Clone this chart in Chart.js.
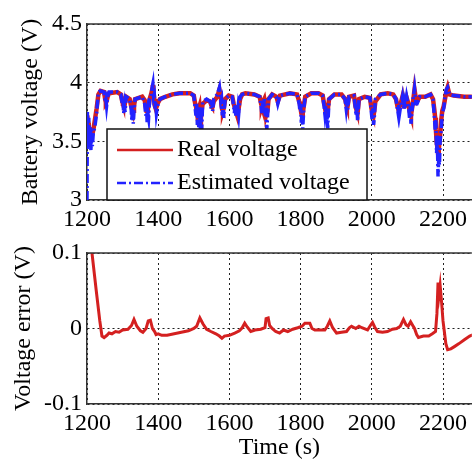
<!DOCTYPE html>
<html>
<head>
<meta charset="utf-8">
<script src="https://cdn.jsdelivr.net/npm/chart.js@4"></script>
<style>
  html, body { margin: 0; padding: 0; background: #fff; }
  #wrap { position: relative; width: 472px; height: 465px; overflow: hidden; }
  #voltChart { position: absolute; left: 0; top: 0; }
  #errChart { position: absolute; left: 0; top: 232px; }
</style>
</head>
<body>
<div id="wrap">
  <canvas id="voltChart" width="472" height="232"></canvas>
  <canvas id="errChart" width="472" height="233"></canvas>
</div>
<script>
// time axis (s) for the voltage plot
const voltTime = [1200, 1201, 1203, 1205, 1207, 1209, 1211, 1213, 1215, 1218,
  1222, 1227, 1232, 1238, 1248, 1251, 1253, 1255, 1258, 1262,
  1285, 1295, 1299, 1301, 1303, 1305, 1307, 1310, 1320, 1324,
  1326, 1328, 1330, 1332, 1335, 1355, 1362, 1365, 1367, 1369,
  1371, 1373, 1376, 1380, 1383, 1385, 1387, 1389, 1391, 1393,
  1395, 1398, 1405, 1420, 1440, 1460, 1490, 1500, 1504, 1506,
  1508, 1510, 1512, 1514, 1516, 1518, 1520, 1522, 1525, 1536,
  1546, 1549, 1551, 1553, 1556, 1566, 1572, 1576, 1578, 1580,
  1582, 1584, 1588, 1598, 1608, 1612, 1614, 1616, 1618, 1620,
  1622, 1624, 1626, 1630, 1636, 1645, 1670, 1685, 1689, 1691,
  1693, 1695, 1698, 1701, 1703, 1705, 1707, 1710, 1720, 1732,
  1736, 1742, 1770, 1790, 1796, 1798, 1800, 1802, 1804, 1806,
  1809, 1813, 1830, 1850, 1862, 1866, 1868, 1870, 1872, 1874,
  1876, 1880, 1895, 1915, 1925, 1928, 1930, 1932, 1936, 1950,
  1954, 1956, 1958, 1960, 1964, 1980, 1995, 1999, 2001, 2003,
  2005, 2007, 2010, 2025, 2045, 2060, 2068, 2072, 2074, 2076,
  2078, 2081, 2086, 2090, 2092, 2094, 2098, 2103, 2106, 2108,
  2110, 2113, 2116, 2120, 2124, 2127, 2135, 2150, 2165, 2172,
  2176, 2178, 2180, 2182, 2184, 2186, 2188, 2190, 2192, 2195,
  2198, 2202, 2205, 2209, 2213, 2218, 2230, 2260, 2290];
const realVoltage = [3.72, 3.7, 3.66, 3.62, 3.6, 3.57, 3.56, 3.55, 3.56, 3.6,
  3.68, 3.78, 3.9, 3.93, 3.92, 3.86, 3.83, 3.84, 3.88, 3.91,
  3.92, 3.9, 3.84, 3.82, 3.82, 3.84, 3.83, 3.88, 3.86, 3.8,
  3.78, 3.77, 3.76, 3.8, 3.86, 3.88, 3.85, 3.8, 3.76, 3.76,
  3.78, 3.8, 3.86, 3.9, 3.94, 3.98, 3.92, 3.86, 3.8, 3.78,
  3.79, 3.82, 3.86, 3.88, 3.9, 3.91, 3.91, 3.89, 3.82, 3.8,
  3.76, 3.72, 3.74, 3.78, 3.8, 3.72, 3.7, 3.76, 3.82, 3.85,
  3.84, 3.81, 3.8, 3.8, 3.84, 3.88, 3.94, 3.88, 3.8, 3.77,
  3.76, 3.78, 3.86, 3.89, 3.88, 3.82, 3.8, 3.78, 3.76, 3.76,
  3.76, 3.77, 3.78, 3.86, 3.9, 3.91, 3.9, 3.88, 3.82, 3.8,
  3.82, 3.84, 3.86, 3.8, 3.72, 3.72, 3.76, 3.86, 3.9, 3.88,
  3.84, 3.89, 3.91, 3.9, 3.84, 3.82, 3.78, 3.74, 3.72, 3.74,
  3.8, 3.88, 3.91, 3.91, 3.89, 3.82, 3.8, 3.76, 3.72, 3.74,
  3.76, 3.86, 3.9, 3.9, 3.86, 3.82, 3.8, 3.8, 3.88, 3.89,
  3.8, 3.78, 3.76, 3.74, 3.86, 3.88, 3.87, 3.78, 3.76, 3.74,
  3.72, 3.76, 3.84, 3.9, 3.91, 3.9, 3.86, 3.8, 3.78, 3.78,
  3.8, 3.82, 3.88, 3.8, 3.8, 3.82, 3.87, 3.82, 3.76, 3.74,
  3.72, 3.78, 3.84, 3.94, 3.86, 3.84, 3.88, 3.88, 3.9, 3.86,
  3.76, 3.7, 3.6, 3.5, 3.45, 3.4, 3.42, 3.5, 3.56, 3.68,
  3.76, 3.8, 3.85, 3.92, 3.96, 3.9, 3.89, 3.88, 3.88];
const estVoltage = [3.0, 3.75, 3.5, 3.7, 3.45, 3.62, 3.42, 3.6, 3.46, 3.58,
  3.62, 3.74, 3.92, 3.93, 3.92, 3.84, 3.86, 3.8, 3.88, 3.92,
  3.92, 3.9, 3.82, 3.86, 3.74, 3.8, 3.75, 3.88, 3.86, 3.78,
  3.68, 3.8, 3.65, 3.75, 3.86, 3.88, 3.82, 3.72, 3.82, 3.66,
  3.74, 3.7, 3.86, 3.88, 3.96, 3.99, 3.88, 3.9, 3.78, 3.84,
  3.74, 3.8, 3.86, 3.88, 3.9, 3.91, 3.91, 3.89, 3.78, 3.72,
  3.82, 3.64, 3.78, 3.62, 3.8, 3.6, 3.74, 3.58, 3.84, 3.86,
  3.84, 3.78, 3.84, 3.76, 3.86, 3.9, 3.96, 3.84, 3.86, 3.72,
  3.8, 3.7, 3.86, 3.89, 3.88, 3.8, 3.74, 3.82, 3.72, 3.8,
  3.72, 3.78, 3.73, 3.88, 3.9, 3.91, 3.9, 3.88, 3.8, 3.74,
  3.84, 3.76, 3.86, 3.72, 3.8, 3.6, 3.7, 3.86, 3.9, 3.88,
  3.82, 3.89, 3.91, 3.9, 3.82, 3.76, 3.82, 3.66, 3.75, 3.61,
  3.78, 3.88, 3.91, 3.91, 3.89, 3.8, 3.74, 3.8, 3.66, 3.72,
  3.61, 3.86, 3.9, 3.9, 3.86, 3.78, 3.84, 3.77, 3.88, 3.89,
  3.78, 3.72, 3.8, 3.68, 3.86, 3.88, 3.87, 3.74, 3.68, 3.78,
  3.64, 3.7, 3.86, 3.9, 3.91, 3.9, 3.86, 3.78, 3.74, 3.82,
  3.74, 3.8, 3.88, 3.77, 3.82, 3.78, 3.88, 3.8, 3.7, 3.8,
  3.65, 3.76, 3.86, 3.95, 3.82, 3.82, 3.88, 3.88, 3.9, 3.86,
  3.7, 3.6, 3.68, 3.4, 3.55, 3.2, 3.35, 3.3, 3.5, 3.6,
  3.74, 3.78, 3.86, 3.94, 3.96, 3.9, 3.89, 3.88, 3.88];

// time axis (s) and values for the error plot
const errTime = [1205, 1214, 1226, 1236, 1242, 1248, 1256, 1262, 1270, 1280, 1290, 1300, 1315, 1325, 1332, 1340, 1350, 1357, 1366, 1372,
  1378, 1384, 1390, 1394, 1400, 1410, 1425, 1445, 1465, 1485, 1500, 1508, 1517, 1526, 1536, 1548, 1562, 1572, 1579, 1586,
  1600, 1615, 1628, 1636, 1643, 1650, 1660, 1672, 1688, 1700, 1703, 1709, 1713, 1720, 1730, 1741, 1752, 1764, 1778, 1792,
  1804, 1812, 1826, 1832, 1840, 1855, 1868, 1875, 1882, 1890, 1901, 1915, 1929, 1937, 1943, 1955, 1964, 1972, 1988, 1996,
  2002, 2008, 2016, 2030, 2044, 2058, 2070, 2080, 2089, 2096, 2102, 2109, 2115, 2120, 2126, 2131, 2145, 2160, 2170, 2179,
  2183, 2186, 2189, 2192, 2196, 2200, 2204, 2208, 2213, 2222, 2232, 2245, 2260, 2275, 2290];
const voltError = [0.14, 0.1, 0.05, 0.01, -0.01, -0.012, -0.009, -0.006, -0.007, -0.004, -0.005, -0.002, -0.001, 0.004, 0.012, 0.003, -0.003, -0.005, 0.0, 0.01,
  0.011, 0.0, -0.004, -0.008, -0.007, -0.009, -0.009, -0.007, -0.005, -0.003, 0.0, 0.003, 0.014, 0.006, -0.001, -0.004, -0.007, -0.01, -0.013, -0.01,
  -0.009, -0.006, -0.003, 0.001, 0.007, 0.002, -0.004, -0.002, -0.001, 0.001, 0.013, 0.014, 0.004, 0.0, -0.004, -0.006, -0.002, -0.004, -0.001, 0.001,
  0.003, 0.007, 0.007, 0.0, -0.002, -0.002, -0.002, 0.003, 0.01, 0.001, -0.006, -0.005, -0.004, 0.001, 0.003, 0.0, 0.003, 0.001, -0.002, 0.004,
  0.008, 0.002, -0.004, -0.005, -0.004, -0.001, 0.0, 0.003, 0.012, 0.005, 0.003, 0.009, 0.004, 0.0, -0.008, -0.012, -0.01, -0.01, -0.007, -0.004,
  0.02, 0.061, 0.045, 0.057, 0.035, 0.01, -0.005, -0.02, -0.028, -0.027, -0.024, -0.02, -0.015, -0.01, -0.007];

const xMin = 1200, xMax = 2281;
const xStep = 200;

Chart.defaults.font.family = "'Liberation Serif', 'DejaVu Serif', serif";
Chart.defaults.font.size = 24;
Chart.defaults.color = "#000";

const toPoints = (xs, ys) => xs.map((x, i) => ({ x: x, y: ys[i] }));

// top edge of the box (right edge is cut off in the original)
const frame = {
  id: "frame",
  afterDraw(chart) {
    const { ctx, chartArea } = chart;
    ctx.save();
    ctx.strokeStyle = "#333";
    ctx.lineWidth = 1.5;
    ctx.beginPath();
    ctx.moveTo(chartArea.left, chartArea.top);
    ctx.lineTo(chartArea.right, chartArea.top);
    ctx.stroke();
    ctx.restore();
  }
};

// legend box drawn inside the plot, like matlab's
const legendBox = {
  id: "legendBox",
  afterDatasetsDraw(chart) {
    const { ctx, chartArea } = chart;
    const w = 260, h = 71;
    const x = chartArea.left + 20, y = chartArea.bottom - h;
    ctx.save();
    ctx.fillStyle = "#fff";
    ctx.fillRect(x, y, w, h);
    ctx.strokeStyle = "#111";
    ctx.lineWidth = 1.5;
    ctx.strokeRect(x, y, w, h);
    chart.data.datasets.forEach((ds, i) => {
      const ly = y + 21 + i * 33;
      ctx.strokeStyle = ds.borderColor;
      ctx.lineWidth = 2.5;
      ctx.setLineDash(ds.borderDash || []);
      ctx.beginPath();
      ctx.moveTo(x + 10, ly);
      ctx.lineTo(x + 66, ly);
      ctx.stroke();
      ctx.setLineDash([]);
      ctx.fillStyle = "#000";
      ctx.font = "24px 'Liberation Serif', serif";
      ctx.textBaseline = "middle";
      ctx.fillText(ds.label, x + 70, ly);
    });
    ctx.restore();
  }
};

function xAxis(height, pad, title) {
  return {
    type: "linear",
    min: xMin,
    max: xMax,
    afterBuildTicks: s => {
      const t = [];
      for (let v = xMin; v <= xMax; v += xStep) t.push({ value: v });
      s.ticks = t;
    },
    afterFit: s => { s.height = height; },
    ticks: { stepSize: xStep, padding: pad, maxRotation: 0, autoSkip: false, callback: v => String(v) },
    grid: { color: "#222", lineWidth: 1, drawTicks: false },
    border: { color: "#333", width: 1.5, dash: [2, 3] },
    title: title ? { display: true, text: title, padding: { top: 0, bottom: 3 } } : { display: false }
  };
}

function yAxis(min, max, step, title, titlePad) {
  return {
    min: min,
    max: max,
    afterFit: s => { s.width = 87; },
    ticks: { stepSize: step, padding: 5, callback: v => String(Math.round(v * 10) / 10) },
    grid: { color: "#222", lineWidth: 1, drawTicks: false },
    border: { color: "#333", width: 1.5, dash: [2, 3] },
    title: { display: true, text: title, padding: { top: titlePad, bottom: 0 } }
  };
}

new Chart(document.getElementById("voltChart"), {
  type: "line",
  data: {
    datasets: [{
      label: "Real voltage",
      data: toPoints(voltTime, realVoltage),
      borderColor: "#d42020",
      borderWidth: 4.5,
      order: 2
    }, {
      label: "Estimated voltage",
      data: toPoints(voltTime, estVoltage),
      borderColor: "#2222ff",
      borderWidth: 3.5,
      borderDash: [9, 3, 2, 3],
      order: 1
    }]
  },
  options: {
    responsive: false,
    animation: false,
    layout: { padding: { top: 24, left: 0, right: 0, bottom: 0 } },
    elements: { point: { radius: 0 }, line: { tension: 0 } },
    plugins: { legend: { display: false }, tooltip: { enabled: false } },
    scales: {
      x: xAxis(32, 5, null),
      y: yAxis(3, 4.5, 0.5, "Battery voltage (V)", 16)
    }
  },
  plugins: [frame, legendBox]
});

new Chart(document.getElementById("errChart"), {
  type: "line",
  data: {
    datasets: [{
      label: "Voltage error",
      data: toPoints(errTime, voltError),
      borderColor: "#d42020",
      borderWidth: 3
    }]
  },
  options: {
    responsive: false,
    animation: false,
    layout: { padding: { top: 21, left: 0, right: 0, bottom: 0 } },
    elements: { point: { radius: 0 }, line: { tension: 0 } },
    plugins: { legend: { display: false }, tooltip: { enabled: false } },
    scales: {
      x: xAxis(61, 5, "Time (s)"),
      y: yAxis(-0.1, 0.1, 0.1, "Voltage error (V)", 9)
    }
  },
  plugins: [frame]
});
</script>
</body>
</html>
